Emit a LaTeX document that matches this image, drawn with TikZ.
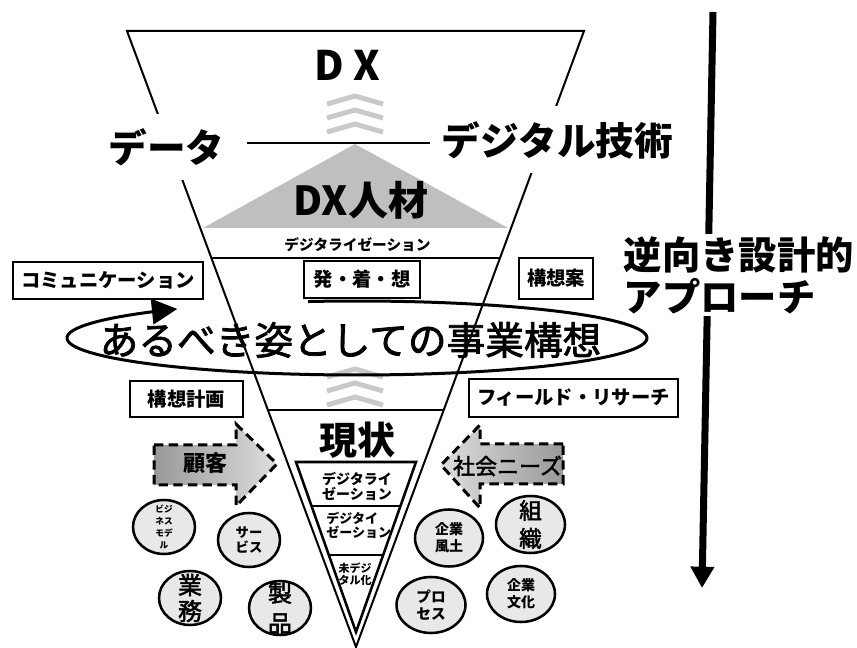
\documentclass[tikz,border=0pt]{standalone}
\usepackage{fontspec}
\setmainfont{Noto Sans CJK JP}
\newfontfamily\jpmed[FakeBold=2]{Noto Sans CJK JP}
\usetikzlibrary{arrows.meta,shapes.geometric,calc}
\newcommand{\fsz}[2]{\fontsize{#1pt}{#2pt}\selectfont}
\definecolor{tri}{gray}{0.75}
\definecolor{chev}{gray}{0.79}
\definecolor{circfill}{gray}{0.91}
\definecolor{arrdark}{gray}{0.6}
\definecolor{arrlight}{gray}{0.87}
\tikzset{
 funnel/.style={line width=1.5pt, line join=miter},
 chevron/.style={draw=chev, line width=3.75pt},
 textbox/.style={draw=black, line width=0.9pt, fill=white, inner sep=0pt, font=\bfseries\fsz{14.5}{16}},
 bubble/.style={ellipse, draw=black, line width=1.9pt, fill=circfill, inner sep=0pt},
 dasharrow/.style={draw=black, line width=2.25pt, dash pattern=on 7pt off 4pt},
 cover/.style={fill=white, inner xsep=3pt, inner ysep=11pt},
 bigjp/.style={font=\bfseries\fsz{29}{32}},
}
\begin{document}
\begin{tikzpicture}[x=0.75pt,y=-0.75pt]
\useasboundingbox (0,0) rectangle (857,648);
\coordinate (tl) at (127,31);
\coordinate (tr) at (584,31);
\coordinate (apex) at (356,647);
\coordinate (hl) at (0,143);

% gray triangle (DX human resources)
\fill[tri] (355,144) -- (508,228) -- (203,228) -- cycle;
% chevrons
\foreach \y in {96,110,124} \draw[chevron] (327,\y+8) -- (355,\y) -- (383,\y+8);
\foreach \y in {369,383,397} \draw[chevron] (327,\y+8) -- (355,\y) -- (383,\y+8);

% vision ellipse
\node[font=\jpmed\fsz{29}{32}] (vision) at (350.5,340) {あるべき姿としての事業構想};
\draw[line width=2.25pt, -{Triangle[length=19pt,width=19pt]}] plot[domain=260.3:591.7, samples=160] ({357+290*cos(\x)},{338+37*sin(\x)});

% funnel
\draw[funnel] (apex) -- (tl) -- (tr) -- cycle;
\draw[funnel] ($(tl)!0.3685!(apex)$) -- ($(tr)!0.3685!(apex)$);
\draw[funnel] ($(tl)!0.6153!(apex)$) -- ($(tr)!0.6153!(apex)$);

% data / digital technology
\node[cover, bigjp] (data) at (166.5,147) {データ};
\node[cover, bigjp] (tech) at (557.5,140) {デジタル技術};
\draw[funnel, shorten <=14pt, shorten >=5.5pt] (data.east |- hl) -- (tech.west |- hl);

\node[font=\bfseries\fsz{30.5}{32}] (dx) at (347.5,65.5) {D X};
\node[font=\bfseries\fsz{30}{32}] (jinzai) at (361,200) {DX人材};
\node[font=\bfseries\fsz{11}{12}] (digi1) at (357.5,245) {デジタライゼーション};

% boxes
\node[textbox, minimum width=142.5pt, minimum height=27.75pt] (comm) at (108,280.5) {コミュニケーション};
\node[textbox, minimum width=87pt, minimum height=27.75pt] (hatsu) at (362,279.5) {発・着・想};
\node[textbox, minimum width=55.5pt, minimum height=30.75pt] (kousoan) at (556,278.5) {構想案};
\node[textbox, minimum width=84.75pt, minimum height=27pt] (keikaku) at (186.5,399) {構想計画};
\node[textbox, minimum width=156.75pt, minimum height=28.5pt] (field) at (573.5,398) {フィールド・リサーチ};

% current state
\node[font=\bfseries\fsz{28.5}{30}] (genjo) at (357,440) {現状};
\coordinate (itl) at (296,462);
\coordinate (itr) at (416,462);
\coordinate (iap) at (356,632);
\draw[line width=1.9pt, line join=miter] (itl) -- (itr) -- (iap) -- cycle;
\draw[line width=1.9pt] ($(itl)!0.2588!(iap)$) -- ($(itr)!0.2588!(iap)$);
\draw[line width=1.9pt] ($(itl)!0.5471!(iap)$) -- ($(itr)!0.5471!(iap)$);
\node[font=\bfseries\fsz{10.5}{11.25}, align=center] (t1) at (357,486) {デジタライ\\ゼーション};
\node[font=\bfseries\fsz{9.75}{10.5}, align=left, anchor=west, inner sep=0pt] (t2) at (326,525) {デジタイ\\ゼーション};
\node[font=\bfseries\fsz{8.25}{9}, align=center] (t3) at (355,574) {未デジ\\タル化};

% dashed arrows
\shadedraw[dasharrow, left color=arrdark, right color=arrlight] (154,445) -- (236,445) -- (236,424) -- (277,464) -- (236,506) -- (236,485) -- (154,485) -- cycle;
\node[font=\bfseries\fsz{16.5}{18}] (kokyaku) at (205,463) {顧客};
\shadedraw[dasharrow, left color=arrlight, right color=arrdark] (563,444) -- (480,444) -- (480,425) -- (441,465) -- (480,508) -- (480,484) -- (563,484) -- cycle;
\node[font=\jpmed\fsz{16.5}{18}] (needs) at (507.5,466) {社会ニーズ};

% bubbles left
\node[bubble, minimum width=46.5pt, minimum height=40.5pt] (bm) at (164,527) {};
\node[font=\bfseries\fsz{6.5}{9}, align=center] at (bm) {ビジ\\ネス\\モデ\\ル};
\node[bubble, minimum width=46.5pt, minimum height=40.5pt] (sv) at (249,540) {};
\node[font=\bfseries\fsz{10}{11.25}, align=center] at (sv) {サー\\ビス};
\node[bubble, minimum width=46.5pt, minimum height=40.5pt] (gm) at (190,598) {};
\node[font=\jpmed\fsz{18}{19.5}, align=center] at (gm) {業\\務};
\node[bubble, minimum width=46.5pt, minimum height=40.5pt] (sh) at (280,608) {};
\node[font=\jpmed\fsz{18}{23}, align=center] at (sh) {製\\品};
% bubbles right
\node[bubble, minimum width=51pt, minimum height=42.75pt] (fu) at (449,538) {};
\node[font=\bfseries\fsz{10.5}{12.75}, align=center] at (fu) {企業\\風土};
\node[bubble, minimum width=51.75pt, minimum height=42.75pt] (so) at (530.5,524.5) {};
\node[font=\jpmed\fsz{17}{21}, align=center] at (so) {組\\織};
\node[bubble, minimum width=51.75pt, minimum height=42pt] (pr) at (431,605) {};
\node[font=\bfseries\fsz{11}{12.4}, align=center] at (pr) {プロ\\セス};
\node[bubble, minimum width=51pt, minimum height=42pt] (bk) at (521,594) {};
\node[font=\bfseries\fsz{10.5}{12.75}, align=center] at (bk) {企業\\文化};

% backward design arrow
\coordinate (vtop) at (713,12);
\coordinate (vbot) at (702,588);
\draw[line width=5.25pt, -{Triangle[length=16pt,width=17pt]}] (vtop) -- (vbot);
\node[fill=white, inner sep=2pt, anchor=west, align=left, font=\bfseries\fsz{28.75}{31.5}] (approach) at (621,275) {逆向き設計的\\アプローチ};
\end{tikzpicture}
\end{document}
